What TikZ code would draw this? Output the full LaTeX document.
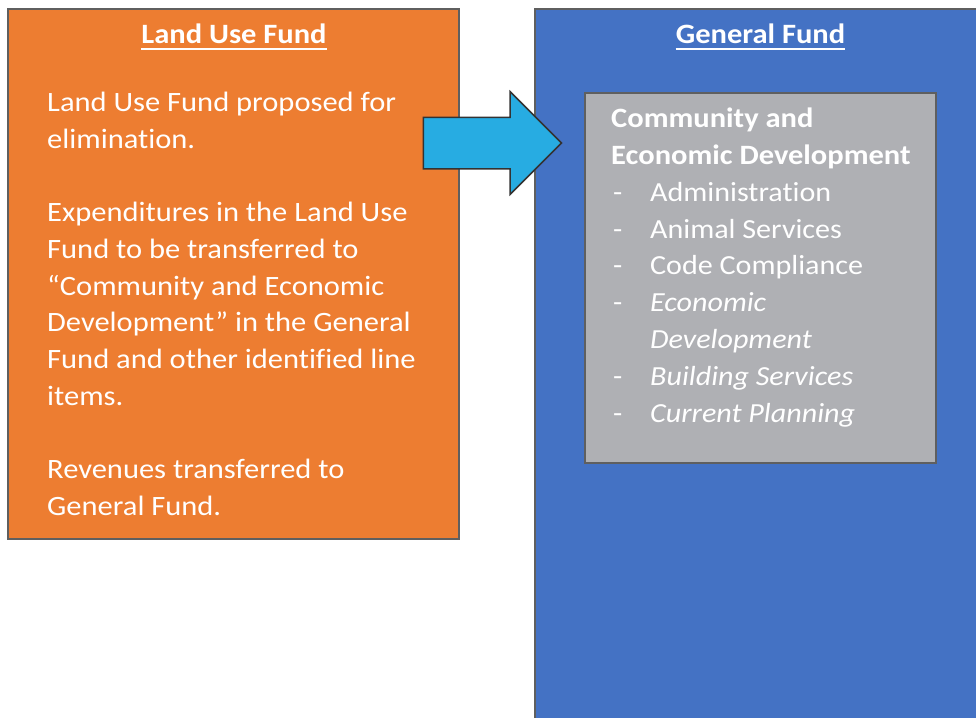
\documentclass[tikz,border=0pt]{standalone}
\usepackage{fontspec}
\setmainfont[Ligatures={TeX,NoCommon}, FakeStretch=1.09]{Carlito}
\usetikzlibrary{shapes.arrows}

\definecolor{landorange}{HTML}{ED7D31}
\definecolor{fundblue}{HTML}{4472C4}
\definecolor{deptgray}{HTML}{AFB0B4}
\definecolor{arrowcyan}{HTML}{27ACE2}
\definecolor{edgegray}{HTML}{5F5F5F}

\tikzset{
    fundbox/.style={draw=edgegray, line width=1.5pt},
    heading/.style={text=white, inner sep=0pt, font=\fontsize{28}{34}\selectfont\bfseries},
    bodytext/.style={text=white, inner sep=0pt, align=left, font=\fontsize{28}{36.7}\selectfont},
    deptlist/.style={text=white, inner sep=0pt, align=left, font=\fontsize{27.6}{36.8}\selectfont},
}
\newcommand{\dash}[1]{\makebox[37pt][l]{-}#1}

\begin{document}
\begin{tikzpicture}[x=1pt,y=-1pt]
    \clip (0,0) rectangle (976,717);

    % the two funds
    \filldraw[fundbox, fill=landorange] (8,9) rectangle (459,539);
    \filldraw[fundbox, fill=fundblue] (535,9) rectangle (990,730);
    \filldraw[fundbox, fill=deptgray] (585,93) rectangle (936,463);

    \node[heading, anchor=base] (lutitle) at (234,44) {Land Use Fund};
    \node[heading, anchor=base] (gftitle) at (760.5,44) {General Fund};
    \draw[white, line width=2pt] ([yshift=-5.5pt]lutitle.base west) -- ([yshift=-5.5pt]lutitle.base east);
    \draw[white, line width=2pt] ([yshift=-5.5pt]gftitle.base west) -- ([yshift=-5.5pt]gftitle.base east);

    % base anchor sits on the last line
    \node[bodytext, anchor=base west] (lubody) at (47,515.4) {%
        Land Use Fund proposed for\\
        elimination.\\[36.7pt]
        Expenditures in the Land Use\\
        Fund to be transferred to\\
        ``Community and Economic\\
        Development'' in the General\\
        Fund and other identified line\\
        items.\\[36.7pt]
        Revenues transferred to\\
        General Fund.};

    \node[deptlist, anchor=base west] (dept) at (611,422.1) {%
        {\fontsize{28}{36.8}\selectfont\bfseries Community and}\\
        {\fontsize{28}{36.8}\selectfont\bfseries Economic Development}\\
        \hspace*{2pt}\dash{Administration}\\
        \hspace*{2pt}\dash{Animal Services}\\
        \hspace*{2pt}\dash{Code Compliance}\\
        \hspace*{2pt}\dash{\textit{Economic}}\\
        \hspace*{39pt}\textit{Development}\\
        \hspace*{2pt}\dash{\textit{Building Services}}\\
        \hspace*{2pt}\dash{\textit{Current Planning}}};

    % transfer into the general fund
    \node[single arrow, draw=black!80, line width=1.5pt, fill=arrowcyan,
          minimum height=138pt, single arrow head extend=25.5pt,
          single arrow tip angle=90, inner xsep=0pt, inner ysep=25pt,
          anchor=tail] (transfer) at (422.7,143) {};
\end{tikzpicture}
\end{document}
